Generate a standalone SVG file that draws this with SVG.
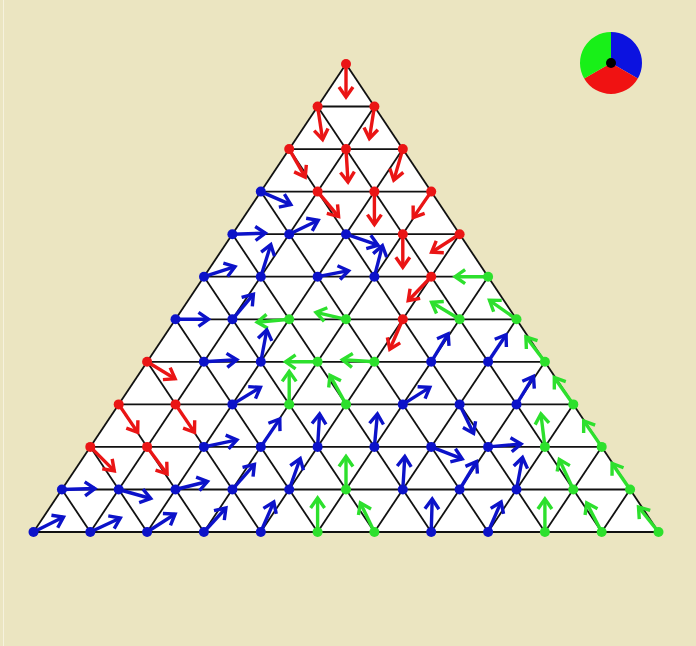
<svg xmlns="http://www.w3.org/2000/svg" width="696" height="646" viewBox="0 0 696 646">
<style>
.bg{fill:#ebe5c1}
.tri{fill:#ffffff}
.grid line{stroke:#111;stroke-width:1.8}
.a{stroke-width:3.4;fill:none;stroke-linecap:butt}
.r .a{stroke:#ea1515;marker-end:url(#hr)}
.b .a{stroke:#0c12c9;marker-end:url(#hb)}
.g .a{stroke:#2de02d;marker-end:url(#hg)}
.r circle{fill:#ea1515}
.b circle{fill:#0c12c9}
.g circle{fill:#2de02d}
</style>
<defs>
<marker id="hr" markerUnits="userSpaceOnUse" markerWidth="30" markerHeight="30" refX="0" refY="0" viewBox="-15 -15 30 30" orient="auto" overflow="visible"><path d="M-10,-7 L0,0 L-10,7" fill="none" stroke="#ea1515" stroke-width="3.4"/></marker>
<marker id="hb" markerUnits="userSpaceOnUse" markerWidth="30" markerHeight="30" refX="0" refY="0" viewBox="-15 -15 30 30" orient="auto" overflow="visible"><path d="M-10,-7 L0,0 L-10,7" fill="none" stroke="#0c12c9" stroke-width="3.4"/></marker>
<marker id="hg" markerUnits="userSpaceOnUse" markerWidth="30" markerHeight="30" refX="0" refY="0" viewBox="-15 -15 30 30" orient="auto" overflow="visible"><path d="M-10,-7 L0,0 L-10,7" fill="none" stroke="#2de02d" stroke-width="3.4"/></marker>
</defs>
<rect class="bg" x="0" y="0" width="696" height="646"/>
<line x1="3.5" y1="0" x2="3.5" y2="646" stroke="#f6f2de" stroke-width="1"/>
<polygon class="tri" points="346,64 33.5,532 658.5,532"/>
<g id="grid" class="grid">
<line x1="317.6" y1="106.5" x2="374.4" y2="106.5"/>
<line x1="289.2" y1="149.1" x2="402.8" y2="149.1"/>
<line x1="260.8" y1="191.6" x2="431.2" y2="191.6"/>
<line x1="232.4" y1="234.2" x2="459.6" y2="234.2"/>
<line x1="204" y1="276.7" x2="488.1" y2="276.7"/>
<line x1="175.5" y1="319.3" x2="516.5" y2="319.3"/>
<line x1="147.1" y1="361.8" x2="544.9" y2="361.8"/>
<line x1="118.7" y1="404.4" x2="573.3" y2="404.4"/>
<line x1="90.3" y1="446.9" x2="601.7" y2="446.9"/>
<line x1="61.9" y1="489.5" x2="630.1" y2="489.5"/>
<line x1="33.5" y1="532" x2="658.5" y2="532"/>
<line x1="346" y1="64" x2="33.5" y2="532"/>
<line x1="374.4" y1="106.5" x2="90.3" y2="532"/>
<line x1="402.8" y1="149.1" x2="147.1" y2="532"/>
<line x1="431.2" y1="191.6" x2="203.9" y2="532"/>
<line x1="459.6" y1="234.2" x2="260.8" y2="532"/>
<line x1="488.1" y1="276.7" x2="317.6" y2="532"/>
<line x1="516.5" y1="319.3" x2="374.4" y2="532"/>
<line x1="544.9" y1="361.8" x2="431.2" y2="532"/>
<line x1="573.3" y1="404.4" x2="488.1" y2="532"/>
<line x1="601.7" y1="446.9" x2="544.9" y2="532"/>
<line x1="630.1" y1="489.5" x2="601.7" y2="532"/>
<line x1="346" y1="64" x2="658.5" y2="532"/>
<line x1="317.6" y1="106.5" x2="601.7" y2="532"/>
<line x1="289.2" y1="149.1" x2="544.9" y2="532"/>
<line x1="260.8" y1="191.6" x2="488.1" y2="532"/>
<line x1="232.4" y1="234.2" x2="431.2" y2="532"/>
<line x1="204" y1="276.7" x2="374.4" y2="532"/>
<line x1="175.5" y1="319.3" x2="317.6" y2="532"/>
<line x1="147.1" y1="361.8" x2="260.8" y2="532"/>
<line x1="118.7" y1="404.4" x2="203.9" y2="532"/>
<line x1="90.3" y1="446.9" x2="147.1" y2="532"/>
<line x1="61.9" y1="489.5" x2="90.3" y2="532"/>
</g>
<g id="nodes">
<g id="n0-0" class="r"><line class="a" x1="346" y1="64" x2="346" y2="97"/><circle cx="346" cy="64" r="5"/></g>
<g id="n1-0" class="r"><line class="a" x1="317.6" y1="106.5" x2="322.6" y2="139.5"/><circle cx="317.6" cy="106.5" r="5"/></g>
<g id="n1-1" class="r"><line class="a" x1="374.4" y1="106.5" x2="369.4" y2="138.5"/><circle cx="374.4" cy="106.5" r="5"/></g>
<g id="n2-0" class="r"><line class="a" x1="289.2" y1="149.1" x2="305.2" y2="177.1"/><circle cx="289.2" cy="149.1" r="5"/></g>
<g id="n2-1" class="r"><line class="a" x1="346" y1="149.1" x2="348" y2="182.1"/><circle cx="346" cy="149.1" r="5"/></g>
<g id="n2-2" class="r"><line class="a" x1="402.8" y1="149.1" x2="393.8" y2="180.1"/><circle cx="402.8" cy="149.1" r="5"/></g>
<g id="n3-0" class="b"><line class="a" x1="260.8" y1="191.6" x2="290.8" y2="204.6"/><circle cx="260.8" cy="191.6" r="5"/></g>
<g id="n3-1" class="r"><line class="a" x1="317.6" y1="191.6" x2="338.6" y2="216.6"/><circle cx="317.6" cy="191.6" r="5"/></g>
<g id="n3-2" class="r"><line class="a" x1="374.4" y1="191.6" x2="374.4" y2="224.6"/><circle cx="374.4" cy="191.6" r="5"/></g>
<g id="n3-3" class="r"><line class="a" x1="431.2" y1="191.6" x2="413.2" y2="217.6"/><circle cx="431.2" cy="191.6" r="5"/></g>
<g id="n4-0" class="b"><line class="a" x1="232.4" y1="234.2" x2="265.4" y2="233.2"/><circle cx="232.4" cy="234.2" r="5"/></g>
<g id="n4-1" class="b"><line class="a" x1="289.2" y1="234.2" x2="318.2" y2="220.2"/><circle cx="289.2" cy="234.2" r="5"/></g>
<g id="n4-2" class="b"><line class="a" x1="346" y1="234.2" x2="378" y2="245.2"/><circle cx="346" cy="234.2" r="5"/></g>
<g id="n4-3" class="r"><line class="a" x1="402.8" y1="234.2" x2="402.8" y2="267.2"/><circle cx="402.8" cy="234.2" r="5"/></g>
<g id="n4-4" class="r"><line class="a" x1="459.6" y1="234.2" x2="431.6" y2="252.2"/><circle cx="459.6" cy="234.2" r="5"/></g>
<g id="n5-0" class="b"><line class="a" x1="204" y1="276.7" x2="235" y2="266.7"/><circle cx="204" cy="276.7" r="5"/></g>
<g id="n5-1" class="b"><line class="a" x1="260.8" y1="276.7" x2="270.8" y2="244.7"/><circle cx="260.8" cy="276.7" r="5"/></g>
<g id="n5-2" class="b"><line class="a" x1="317.6" y1="276.7" x2="348.6" y2="270.7"/><circle cx="317.6" cy="276.7" r="5"/></g>
<g id="n5-3" class="b"><line class="a" x1="374.4" y1="276.7" x2="382.4" y2="245.7"/><circle cx="374.4" cy="276.7" r="5"/></g>
<g id="n5-4" class="r"><line class="a" x1="431.2" y1="276.7" x2="408.2" y2="300.7"/><circle cx="431.2" cy="276.7" r="5"/></g>
<g id="n5-5" class="g"><line class="a" x1="488.1" y1="276.7" x2="455.1" y2="276.7"/><circle cx="488.1" cy="276.7" r="5"/></g>
<g id="n6-0" class="b"><line class="a" x1="175.5" y1="319.3" x2="208.5" y2="319.3"/><circle cx="175.5" cy="319.3" r="5"/></g>
<g id="n6-1" class="b"><line class="a" x1="232.4" y1="319.3" x2="253.4" y2="294.3"/><circle cx="232.4" cy="319.3" r="5"/></g>
<g id="n6-2" class="g"><line class="a" x1="289.2" y1="319.3" x2="257.2" y2="322.3"/><circle cx="289.2" cy="319.3" r="5"/></g>
<g id="n6-3" class="g"><line class="a" x1="346" y1="319.3" x2="316" y2="312.3"/><circle cx="346" cy="319.3" r="5"/></g>
<g id="n6-4" class="r"><line class="a" x1="402.8" y1="319.3" x2="389.8" y2="349.3"/><circle cx="402.8" cy="319.3" r="5"/></g>
<g id="n6-5" class="g"><line class="a" x1="459.6" y1="319.3" x2="431.6" y2="302.3"/><circle cx="459.6" cy="319.3" r="5"/></g>
<g id="n6-6" class="g"><line class="a" x1="516.5" y1="319.3" x2="489.5" y2="300.3"/><circle cx="516.5" cy="319.3" r="5"/></g>
<g id="n7-0" class="r"><line class="a" x1="147.1" y1="361.8" x2="175.1" y2="378.8"/><circle cx="147.1" cy="361.8" r="5"/></g>
<g id="n7-1" class="b"><line class="a" x1="203.9" y1="361.8" x2="236.9" y2="359.8"/><circle cx="203.9" cy="361.8" r="5"/></g>
<g id="n7-2" class="b"><line class="a" x1="260.8" y1="361.8" x2="266.8" y2="329.8"/><circle cx="260.8" cy="361.8" r="5"/></g>
<g id="n7-3" class="g"><line class="a" x1="317.6" y1="361.8" x2="285.6" y2="361.8"/><circle cx="317.6" cy="361.8" r="5"/></g>
<g id="n7-4" class="g"><line class="a" x1="374.4" y1="361.8" x2="342.4" y2="359.8"/><circle cx="374.4" cy="361.8" r="5"/></g>
<g id="n7-5" class="b"><line class="a" x1="431.2" y1="361.8" x2="448.2" y2="333.8"/><circle cx="431.2" cy="361.8" r="5"/></g>
<g id="n7-6" class="b"><line class="a" x1="488.1" y1="361.8" x2="506.1" y2="334.8"/><circle cx="488.1" cy="361.8" r="5"/></g>
<g id="n7-7" class="g"><line class="a" x1="544.9" y1="361.8" x2="525.9" y2="336.8"/><circle cx="544.9" cy="361.8" r="5"/></g>
<g id="n8-0" class="r"><line class="a" x1="118.7" y1="404.4" x2="137.7" y2="432.4"/><circle cx="118.7" cy="404.4" r="5"/></g>
<g id="n8-1" class="r"><line class="a" x1="175.5" y1="404.4" x2="194.5" y2="432.4"/><circle cx="175.5" cy="404.4" r="5"/></g>
<g id="n8-2" class="b"><line class="a" x1="232.4" y1="404.4" x2="260.4" y2="387.4"/><circle cx="232.4" cy="404.4" r="5"/></g>
<g id="n8-3" class="g"><line class="a" x1="289.2" y1="404.4" x2="289.2" y2="371.4"/><circle cx="289.2" cy="404.4" r="5"/></g>
<g id="n8-4" class="g"><line class="a" x1="346" y1="404.4" x2="330" y2="375.4"/><circle cx="346" cy="404.4" r="5"/></g>
<g id="n8-5" class="b"><line class="a" x1="402.8" y1="404.4" x2="429.8" y2="387.4"/><circle cx="402.8" cy="404.4" r="5"/></g>
<g id="n8-6" class="b"><line class="a" x1="459.6" y1="404.4" x2="473.6" y2="433.4"/><circle cx="459.6" cy="404.4" r="5"/></g>
<g id="n8-7" class="b"><line class="a" x1="516.5" y1="404.4" x2="533.5" y2="376.4"/><circle cx="516.5" cy="404.4" r="5"/></g>
<g id="n8-8" class="g"><line class="a" x1="573.3" y1="404.4" x2="554.3" y2="377.4"/><circle cx="573.3" cy="404.4" r="5"/></g>
<g id="n9-0" class="r"><line class="a" x1="90.3" y1="446.9" x2="114.3" y2="470.9"/><circle cx="90.3" cy="446.9" r="5"/></g>
<g id="n9-1" class="r"><line class="a" x1="147.1" y1="446.9" x2="167.1" y2="473.9"/><circle cx="147.1" cy="446.9" r="5"/></g>
<g id="n9-2" class="b"><line class="a" x1="203.9" y1="446.9" x2="236.9" y2="439.9"/><circle cx="203.9" cy="446.9" r="5"/></g>
<g id="n9-3" class="b"><line class="a" x1="260.8" y1="446.9" x2="279.8" y2="418.9"/><circle cx="260.8" cy="446.9" r="5"/></g>
<g id="n9-4" class="b"><line class="a" x1="317.6" y1="446.9" x2="319.6" y2="413.9"/><circle cx="317.6" cy="446.9" r="5"/></g>
<g id="n9-5" class="b"><line class="a" x1="374.4" y1="446.9" x2="377.4" y2="413.9"/><circle cx="374.4" cy="446.9" r="5"/></g>
<g id="n9-6" class="b"><line class="a" x1="431.2" y1="446.9" x2="462.2" y2="458.9"/><circle cx="431.2" cy="446.9" r="5"/></g>
<g id="n9-7" class="b"><line class="a" x1="488.1" y1="446.9" x2="521.1" y2="443.9"/><circle cx="488.1" cy="446.9" r="5"/></g>
<g id="n9-8" class="g"><line class="a" x1="544.9" y1="446.9" x2="540.9" y2="413.9"/><circle cx="544.9" cy="446.9" r="5"/></g>
<g id="n9-9" class="g"><line class="a" x1="601.7" y1="446.9" x2="583.7" y2="420.9"/><circle cx="601.7" cy="446.9" r="5"/></g>
<g id="n10-0" class="b"><line class="a" x1="61.9" y1="489.5" x2="94.9" y2="488.5"/><circle cx="61.9" cy="489.5" r="5"/></g>
<g id="n10-1" class="b"><line class="a" x1="118.7" y1="489.5" x2="150.7" y2="498.5"/><circle cx="118.7" cy="489.5" r="5"/></g>
<g id="n10-2" class="b"><line class="a" x1="175.5" y1="489.5" x2="207.5" y2="481.5"/><circle cx="175.5" cy="489.5" r="5"/></g>
<g id="n10-3" class="b"><line class="a" x1="232.4" y1="489.5" x2="254.4" y2="464.5"/><circle cx="232.4" cy="489.5" r="5"/></g>
<g id="n10-4" class="b"><line class="a" x1="289.2" y1="489.5" x2="300.2" y2="458.5"/><circle cx="289.2" cy="489.5" r="5"/></g>
<g id="n10-5" class="g"><line class="a" x1="346" y1="489.5" x2="346" y2="456.5"/><circle cx="346" cy="489.5" r="5"/></g>
<g id="n10-6" class="b"><line class="a" x1="402.8" y1="489.5" x2="404.8" y2="456.5"/><circle cx="402.8" cy="489.5" r="5"/></g>
<g id="n10-7" class="b"><line class="a" x1="459.6" y1="489.5" x2="476.6" y2="461.5"/><circle cx="459.6" cy="489.5" r="5"/></g>
<g id="n10-8" class="b"><line class="a" x1="516.5" y1="489.5" x2="522.5" y2="457.5"/><circle cx="516.5" cy="489.5" r="5"/></g>
<g id="n10-9" class="g"><line class="a" x1="573.3" y1="489.5" x2="559.3" y2="459.5"/><circle cx="573.3" cy="489.5" r="5"/></g>
<g id="n10-10" class="g"><line class="a" x1="630.1" y1="489.5" x2="612.1" y2="463.5"/><circle cx="630.1" cy="489.5" r="5"/></g>
<g id="n11-0" class="b"><line class="a" x1="33.5" y1="532" x2="63.5" y2="517"/><circle cx="33.5" cy="532" r="5"/></g>
<g id="n11-1" class="b"><line class="a" x1="90.3" y1="532" x2="120.3" y2="518"/><circle cx="90.3" cy="532" r="5"/></g>
<g id="n11-2" class="b"><line class="a" x1="147.1" y1="532" x2="175.1" y2="514"/><circle cx="147.1" cy="532" r="5"/></g>
<g id="n11-3" class="b"><line class="a" x1="203.9" y1="532" x2="225.9" y2="508"/><circle cx="203.9" cy="532" r="5"/></g>
<g id="n11-4" class="b"><line class="a" x1="260.8" y1="532" x2="273.8" y2="502"/><circle cx="260.8" cy="532" r="5"/></g>
<g id="n11-5" class="g"><line class="a" x1="317.6" y1="532" x2="317.6" y2="498"/><circle cx="317.6" cy="532" r="5"/></g>
<g id="n11-6" class="g"><line class="a" x1="374.4" y1="532" x2="360.4" y2="503"/><circle cx="374.4" cy="532" r="5"/></g>
<g id="n11-7" class="b"><line class="a" x1="431.2" y1="532" x2="432.2" y2="499"/><circle cx="431.2" cy="532" r="5"/></g>
<g id="n11-8" class="b"><line class="a" x1="488.1" y1="532" x2="501.1" y2="502"/><circle cx="488.1" cy="532" r="5"/></g>
<g id="n11-9" class="g"><line class="a" x1="544.9" y1="532" x2="544.9" y2="499"/><circle cx="544.9" cy="532" r="5"/></g>
<g id="n11-10" class="g"><line class="a" x1="601.7" y1="532" x2="586.7" y2="503"/><circle cx="601.7" cy="532" r="5"/></g>
<g id="n11-11" class="g"><line class="a" x1="658.5" y1="532" x2="638.5" y2="507"/><circle cx="658.5" cy="532" r="5"/></g>
</g>
<g id="legend">
<path d="M611,63 L611,32 A31,31 0 0 1 637.85,78.5 Z" fill="#0c12e0"/>
<path d="M611,63 L637.85,78.5 A31,31 0 0 1 584.15,78.5 Z" fill="#f01212"/>
<path d="M611,63 L584.15,78.5 A31,31 0 0 1 611,32 Z" fill="#18f018"/>
<circle cx="611" cy="63" r="5" fill="#000"/>
</g>
</svg>
